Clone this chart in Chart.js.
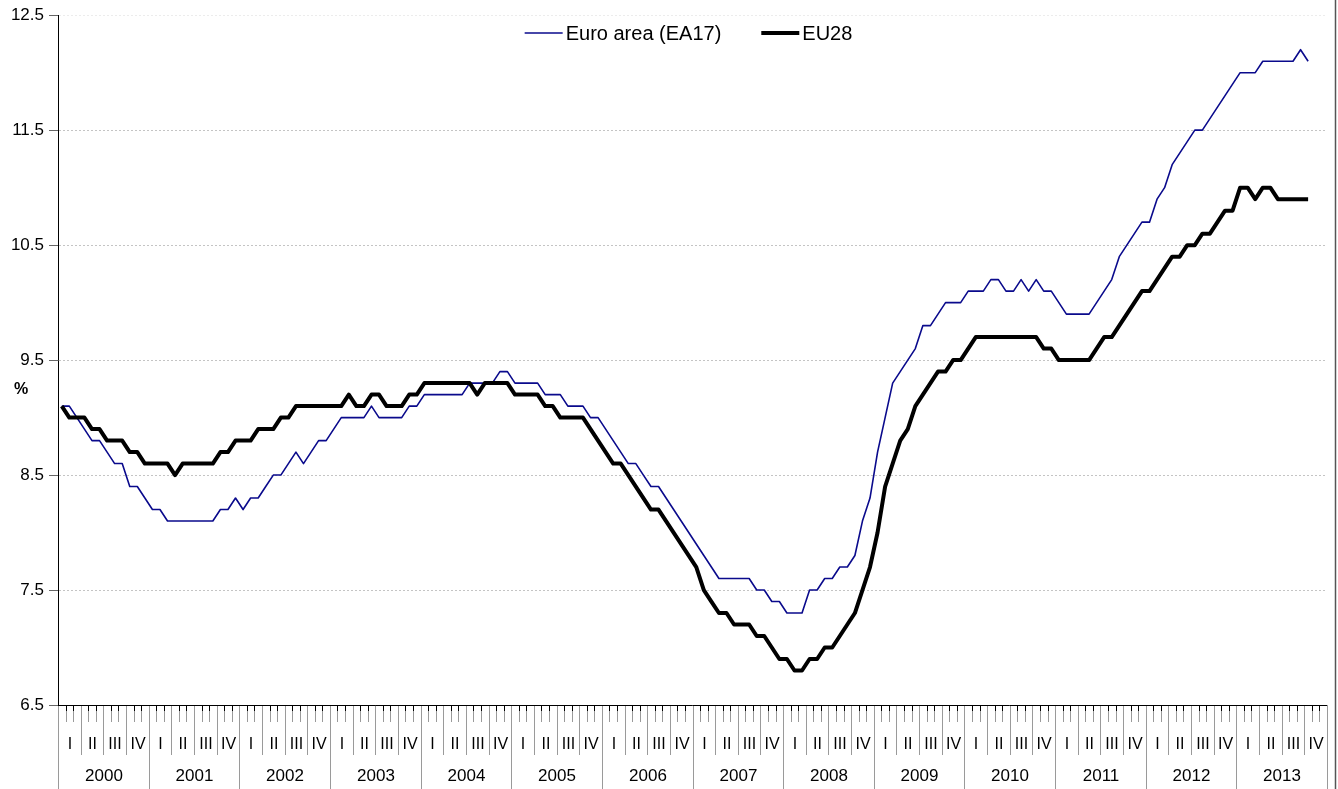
<!DOCTYPE html>
<html>
<head>
<meta charset="utf-8">
<script src="https://cdn.jsdelivr.net/npm/chart.js@4"></script>
<style>
html, body { margin: 0; padding: 0; background: #fff; }
</style>
</head>
<body>
<canvas id="myChart" width="1338" height="789"></canvas>
<script>
var years = ['2000', '2001', '2002', '2003', '2004', '2005', '2006', '2007', '2008', '2009', '2010', '2011', '2012', '2013'];
var quarters = ['I', 'II', 'III', 'IV'];
var yTicks = [6.5, 7.5, 8.5, 9.5, 10.5, 11.5, 12.5];

// monthly unemployment rate, Jan 2000 - Oct 2013
var ea17 = [
  9.1, 9.1, 9.0, 8.9, 8.8, 8.8, 8.7, 8.6, 8.6, 8.4,
  8.4, 8.3, 8.2, 8.2, 8.1, 8.1, 8.1, 8.1, 8.1, 8.1,
  8.1, 8.2, 8.2, 8.3, 8.2, 8.3, 8.3, 8.4, 8.5, 8.5,
  8.6, 8.7, 8.6, 8.7, 8.8, 8.8, 8.9, 9.0, 9.0, 9.0,
  9.0, 9.1, 9.0, 9.0, 9.0, 9.0, 9.1, 9.1, 9.2, 9.2,
  9.2, 9.2, 9.2, 9.2, 9.3, 9.3, 9.3, 9.3, 9.4, 9.4,
  9.3, 9.3, 9.3, 9.3, 9.2, 9.2, 9.2, 9.1, 9.1, 9.1,
  9.0, 9.0, 8.9, 8.8, 8.7, 8.6, 8.6, 8.5, 8.4, 8.4,
  8.3, 8.2, 8.1, 8.0, 7.9, 7.8, 7.7, 7.6, 7.6, 7.6,
  7.6, 7.6, 7.5, 7.5, 7.4, 7.4, 7.3, 7.3, 7.3, 7.5,
  7.5, 7.6, 7.6, 7.7, 7.7, 7.8, 8.1, 8.3, 8.7, 9.0,
  9.3, 9.4, 9.5, 9.6, 9.8, 9.8, 9.9, 10.0, 10.0, 10.0,
  10.1, 10.1, 10.1, 10.2, 10.2, 10.1, 10.1, 10.2, 10.1, 10.2,
  10.1, 10.1, 10.0, 9.9, 9.9, 9.9, 9.9, 10.0, 10.1, 10.2,
  10.4, 10.5, 10.6, 10.7, 10.7, 10.9, 11.0, 11.2, 11.3, 11.4,
  11.5, 11.5, 11.6, 11.7, 11.8, 11.9, 12.0, 12.0, 12.0, 12.1,
  12.1, 12.1, 12.1, 12.1, 12.2, 12.1
];
var eu28 = [
  9.1, 9.0, 9.0, 9.0, 8.9, 8.9, 8.8, 8.8, 8.8, 8.7,
  8.7, 8.6, 8.6, 8.6, 8.6, 8.5, 8.6, 8.6, 8.6, 8.6,
  8.6, 8.7, 8.7, 8.8, 8.8, 8.8, 8.9, 8.9, 8.9, 9.0,
  9.0, 9.1, 9.1, 9.1, 9.1, 9.1, 9.1, 9.1, 9.2, 9.1,
  9.1, 9.2, 9.2, 9.1, 9.1, 9.1, 9.2, 9.2, 9.3, 9.3,
  9.3, 9.3, 9.3, 9.3, 9.3, 9.2, 9.3, 9.3, 9.3, 9.3,
  9.2, 9.2, 9.2, 9.2, 9.1, 9.1, 9.0, 9.0, 9.0, 9.0,
  8.9, 8.8, 8.7, 8.6, 8.6, 8.5, 8.4, 8.3, 8.2, 8.2,
  8.1, 8.0, 7.9, 7.8, 7.7, 7.5, 7.4, 7.3, 7.3, 7.2,
  7.2, 7.2, 7.1, 7.1, 7.0, 6.9, 6.9, 6.8, 6.8, 6.9,
  6.9, 7.0, 7.0, 7.1, 7.2, 7.3, 7.5, 7.7, 8.0, 8.4,
  8.6, 8.8, 8.9, 9.1, 9.2, 9.3, 9.4, 9.4, 9.5, 9.5,
  9.6, 9.7, 9.7, 9.7, 9.7, 9.7, 9.7, 9.7, 9.7, 9.7,
  9.6, 9.6, 9.5, 9.5, 9.5, 9.5, 9.5, 9.6, 9.7, 9.7,
  9.8, 9.9, 10.0, 10.1, 10.1, 10.2, 10.3, 10.4, 10.4, 10.5,
  10.5, 10.6, 10.6, 10.7, 10.8, 10.8, 11.0, 11.0, 10.9, 11.0,
  11.0, 10.9, 10.9, 10.9, 10.9, 10.9
];

// one category per month
var months = [];
years.forEach(function (y) {
  for (var m = 1; m <= 12; m++) months.push(y + '-' + (m < 10 ? '0' : '') + m);
});

var FONT = '"Liberation Sans", Arial, sans-serif';

// draws the month/quarter/year axis, the legend and the % label
var extras = {
  id: 'extras',
  afterDraw: function (chart) {
    var ctx = chart.ctx, a = chart.chartArea, x = chart.scales.x;
    var step = x.getPixelForValue(1) - x.getPixelForValue(0);
    var edge = function (i) { return Math.round(x.getPixelForValue(i) - step / 2) + 0.5; };
    var bottom = a.bottom;
    ctx.save();
    ctx.lineWidth = 1;
    for (var i = 0; i <= months.length; i++) {
      var px = edge(i);
      ctx.strokeStyle = '#000';
      ctx.beginPath(); ctx.moveTo(px, bottom); ctx.lineTo(px, bottom + 6); ctx.stroke();
      ctx.strokeStyle = '#9a9a9a';
      ctx.beginPath();
      if (i % 12 === 0) { ctx.moveTo(px, bottom); ctx.lineTo(px, chart.height); }
      else if (i % 3 === 0) { ctx.moveTo(px, bottom); ctx.lineTo(px, bottom + 50); }
      else { ctx.moveTo(px, bottom + 6); ctx.lineTo(px, bottom + 17); }
      ctx.stroke();
    }
    ctx.fillStyle = '#000';
    ctx.textAlign = 'center';
    ctx.textBaseline = 'middle';
    ctx.font = '16px ' + FONT;
    for (var q = 0; q < years.length * 4; q++) {
      var cx = (edge(q * 3) + edge(q * 3 + 3)) / 2;
      ctx.fillText(quarters[q % 4], cx, bottom + 40);
    }
    ctx.font = '17px ' + FONT;
    years.forEach(function (y, k) {
      ctx.fillText(y, (edge(k * 12) + edge(k * 12 + 12)) / 2, bottom + 71);
    });
    // axis line
    ctx.strokeStyle = '#000';
    ctx.beginPath(); ctx.moveTo(a.left, bottom + 0.5); ctx.lineTo(a.right, bottom + 0.5); ctx.stroke();
    // frame on the right
    ctx.strokeStyle = '#555';
    ctx.lineWidth = 1.5;
    ctx.beginPath(); ctx.moveTo(1335.5, 0); ctx.lineTo(1335.5, chart.height); ctx.stroke();

    // % label
    ctx.font = 'bold 16px ' + FONT;
    ctx.textAlign = 'left';
    ctx.fillText('%', 14, 390);

    // legend
    ctx.font = '20px ' + FONT;
    var lineLen = 38, gap = 3, spacing = 40;
    var items = chart.data.datasets.map(function (d) {
      return { d: d, w: lineLen + gap + ctx.measureText(d.label).width };
    });
    var total = items.reduce(function (s, it) { return s + it.w; }, 0) + spacing * (items.length - 1);
    var lx = (a.left + a.right) / 2 - total / 2 - 4, ly = 33;
    items.forEach(function (it) {
      ctx.strokeStyle = it.d.borderColor;
      ctx.lineWidth = it.d.borderWidth;
      ctx.beginPath(); ctx.moveTo(lx, ly); ctx.lineTo(lx + lineLen, ly); ctx.stroke();
      ctx.fillStyle = '#000';
      ctx.textAlign = 'left';
      ctx.fillText(it.d.label, lx + lineLen + gap, ly + 1);
      lx += it.w + spacing;
    });
    ctx.restore();
  }
};

var ctx = document.getElementById('myChart');

var chart = new Chart(ctx, {
  type: 'line',
  data: {
    labels: months,
    datasets: [{
      label: 'Euro area (EA17)',
      data: ea17,
      borderColor: '#0a0a8c',
      borderWidth: 1.6,
      order: 1
    }, {
      label: 'EU28',
      data: eu28,
      borderColor: '#000000',
      borderWidth: 4,
      order: 0
    }]
  },
  options: {
    responsive: false,
    animation: false,
    devicePixelRatio: 1,
    layout: { padding: { left: 0, top: 15, right: 11, bottom: 84 } },
    elements: {
      point: { radius: 0 },
      line: { tension: 0, borderJoinStyle: 'round', fill: false }
    },
    plugins: {
      legend: { display: false },
      tooltip: { enabled: false }
    },
    scales: {
      x: {
        type: 'category',
        offset: true,
        display: false
      },
      y: {
        min: yTicks[0],
        max: yTicks[yTicks.length - 1],
        afterFit: function (scale) { scale.width = 58; },
        afterBuildTicks: function (scale) {
          scale.ticks = yTicks.map(function (v) { return { value: v }; });
        },
        ticks: {
          color: '#000',
          padding: 5,
          font: { family: FONT, size: 17 },
          callback: function (v) { return v.toFixed(1); }
        },
        grid: {
          color: function (c) { return c.tick && c.tick.value === yTicks[yTicks.length - 1] ? '#ececec' : '#c4c4c4'; },
          tickColor: '#666',
          tickLength: 9
        },
        border: { color: '#000', width: 1, dash: [2, 2] }
      }
    }
  },
  plugins: [extras]
});
</script>
</body>
</html>
